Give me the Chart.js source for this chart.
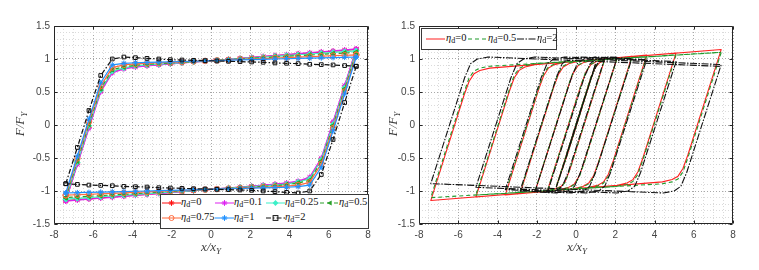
<!DOCTYPE html>
<html>
<head>
<meta charset="utf-8">
<script src="https://cdn.jsdelivr.net/npm/chart.js@4.4.1/dist/chart.umd.min.js"></script>
<style>
  html, body { margin: 0; padding: 0; background: #fff; }
  #wrap { position: relative; width: 759px; height: 270px; overflow: hidden; }
  canvas { position: absolute; top: 0; }
  #cL { left: 0; }
  #cR { left: 380px; }
  .ttl { position: absolute; font-family: "Liberation Serif", "DejaVu Serif", serif; font-style: italic;
         font-size: 13px; color: #3c3c3c; white-space: nowrap; line-height: 1; }
  .ttl sub { font-size: 9px; vertical-align: -3px; }
  .ytl { transform: translate(-50%, -50%) rotate(-90deg); }
  .xtl { transform: translate(-50%, -50%); }
  .leg { position: absolute; background: #fff; border: 1px solid #3a3a3a; box-sizing: border-box; z-index: 2; }
  .item { position: absolute; white-space: nowrap; font-family: "Liberation Serif", serif; font-size: 10.5px;
          color: #111; line-height: 1; transform: translateY(-50%); }
  .item svg { position: absolute; left: 0; top: 50%; transform: translateY(-50%); }
  .item span { position: absolute; top: -6px; }
  .item i { font-style: italic; }
  .item sub { font-size: 8px; vertical-align: -2px; }
</style>
</head>
<body>
<div id="wrap">
  <canvas id="cL" width="380" height="270"></canvas>
  <canvas id="cR" width="379" height="270"></canvas>
  <div class="ttl ytl" style="left:21px; top:124px;">F/F<sub>Y</sub></div>
  <div class="ttl xtl" style="left:211px; top:248px;">x/x<sub>Y</sub></div>
  <div class="ttl ytl" style="left:394px; top:124px;">F/F<sub>Y</sub></div>
  <div class="ttl xtl" style="left:577px; top:248px;">x/x<sub>Y</sub></div>
  <div class="leg" id="legL" style="left:160px; top:194px; width:209px; height:35px;"></div>
  <div class="leg" id="legR" style="left:421px; top:28px; width:136px; height:22px;"></div>
</div>
<script>
// ---------- left panel: last full cycle, one branch each way ----------
const gridUp = [-7.4, -6.81, -6.22, -5.62, -5.03, -4.44, -3.85, -3.26, -2.66, -2.07, -1.48, -0.89, -0.30,
                0.30, 0.89, 1.48, 2.07, 2.66, 3.26, 3.85, 4.44, 5.03, 5.62, 6.22, 6.81, 7.4];
const gridDown = [7.4, 6.81, 6.22, 5.62, 5.03, 4.44, 3.85, 3.26, 2.66, 2.07, 1.48, 0.89, 0.30,
                  -0.30, -0.89, -1.48, -2.07, -2.66, -3.26, -3.85, -4.44, -5.03, -5.62, -6.22, -6.81, -7.4];

const eta0Up = [-1.145, -0.59, -0.036, 0.52, 0.80, 0.86, 0.883, 0.900, 0.914, 0.927, 0.941, 0.955, 0.968,
                0.982, 0.995, 1.009, 1.023, 1.036, 1.050, 1.064, 1.077, 1.091, 1.104, 1.118, 1.132, 1.145];
const eta0Down = [1.145, 0.59, 0.036, -0.52, -0.80, -0.86, -0.883, -0.900, -0.914, -0.927, -0.941, -0.955, -0.968,
                  -0.982, -0.995, -1.009, -1.023, -1.036, -1.050, -1.064, -1.077, -1.091, -1.104, -1.118, -1.132, -1.145];
const eta01Up = [-1.153, -0.60, -0.05, 0.50, 0.79, 0.85, 0.877, 0.895, 0.910, 0.925, 0.939, 0.954, 0.968,
                 0.982, 0.996, 1.011, 1.025, 1.039, 1.053, 1.067, 1.082, 1.096, 1.110, 1.124, 1.138, 1.153];
const eta01Down = [1.153, 0.60, 0.05, -0.50, -0.79, -0.85, -0.877, -0.895, -0.910, -0.925, -0.939, -0.954, -0.968,
                   -0.982, -0.996, -1.011, -1.025, -1.039, -1.053, -1.067, -1.082, -1.096, -1.110, -1.124, -1.138, -1.153];
const eta025Up = [-1.123, -0.565, -0.01, 0.53, 0.815, 0.865, 0.895, 0.910, 0.922, 0.934, 0.945, 0.957, 0.969,
                  0.981, 0.993, 1.005, 1.016, 1.028, 1.040, 1.052, 1.064, 1.076, 1.087, 1.099, 1.111, 1.123];
const eta025Down = [1.123, 0.565, 0.01, -0.53, -0.815, -0.865, -0.895, -0.910, -0.922, -0.934, -0.945, -0.957, -0.969,
                    -0.981, -0.993, -1.005, -1.016, -1.028, -1.040, -1.052, -1.064, -1.076, -1.087, -1.099, -1.111, -1.123];
const eta05Up = [-1.10, -0.545, 0.01, 0.55, 0.84, 0.88, 0.905, 0.92, 0.93, 0.94, 0.95, 0.96, 0.97,
                 0.98, 0.99, 1.00, 1.01, 1.02, 1.03, 1.04, 1.05, 1.06, 1.07, 1.08, 1.09, 1.10];
const eta05Down = [1.10, 0.545, -0.01, -0.55, -0.84, -0.88, -0.905, -0.92, -0.93, -0.94, -0.95, -0.96, -0.97,
                   -0.98, -0.99, -1.00, -1.01, -1.02, -1.03, -1.04, -1.05, -1.06, -1.07, -1.08, -1.09, -1.10];
const eta075Up = [-1.064, -0.505, 0.05, 0.59, 0.87, 0.91, 0.925, 0.935, 0.943, 0.95, 0.957, 0.964, 0.971,
                  0.979, 0.986, 0.993, 1.0, 1.007, 1.014, 1.021, 1.028, 1.035, 1.042, 1.05, 1.057, 1.064];
const eta075Down = [1.064, 0.505, -0.05, -0.59, -0.87, -0.91, -0.925, -0.935, -0.943, -0.95, -0.957, -0.964, -0.971,
                    -0.979, -0.986, -0.993, -1.0, -1.007, -1.014, -1.021, -1.028, -1.035, -1.042, -1.05, -1.057, -1.064];
const eta1Up = [-1.03, -0.47, 0.09, 0.64, 0.91, 0.935, 0.943, 0.948, 0.953, 0.957, 0.962, 0.966, 0.973,
                0.977, 0.982, 0.986, 0.991, 0.995, 1.0, 1.004, 1.008, 1.013, 1.017, 1.022, 1.026, 1.03];
const eta1Down = [1.03, 0.47, -0.09, -0.64, -0.91, -0.935, -0.943, -0.948, -0.953, -0.957, -0.962, -0.966, -0.973,
                  -0.977, -0.982, -0.986, -0.991, -0.995, -1.0, -1.004, -1.008, -1.013, -1.017, -1.022, -1.026, -1.03];
const eta2Up = [-0.89, -0.34, 0.22, 0.75, 1.0, 1.03, 1.02, 1.01, 1.0, 0.99, 0.985, 0.98, 0.975,
                0.97, 0.965, 0.96, 0.955, 0.95, 0.94, 0.935, 0.93, 0.92, 0.915, 0.91, 0.90, 0.89];
const eta2Down = [0.89, 0.34, -0.22, -0.75, -1.0, -1.03, -1.02, -1.01, -1.0, -0.99, -0.985, -0.98, -0.975,
                  -0.97, -0.965, -0.96, -0.955, -0.95, -0.94, -0.935, -0.93, -0.92, -0.915, -0.91, -0.90, -0.89];

// ---------- right panel: whole loading history ----------
const pathX = [0, 0.5, 0, -0.5, 0, 0.5, 1.0, 0.5, 0, -0.5, -1.0, 0.75, 1.0, 1.2, 1.45,
  -0.3, -0.55, -0.75, -1.05, -1.45, 0.25, 0.5, 0.75, 1.05, 1.55, 2.1,
  0.4, 0.15, -0.1, -0.4, -0.9, -2.1, -0.4, -0.15, 0.1, 0.4, 0.9, 2.85,
  1.15, 0.9, 0.65, 0.35, -0.15, -2.85, -1.15, -0.9, -0.65, -0.35, 0.15, 3.6,
  1.9, 1.65, 1.4, 1.1, 0.6, -3.6, -1.9, -1.65, -1.4, -1.1, -0.6, 5.1,
  3.4, 3.15, 2.9, 2.6, 2.1, -5.1, -3.4, -3.15, -2.9, -2.6, -2.1, 7.4,
  5.7, 5.45, 5.2, 4.9, 4.4, -7.4, -5.7, -5.45, -5.2, -4.9, -4.4, 7.4];
const histEta0 = [0, 0.47, 0.01, -0.47, -0.01, 0.46, 0.92, 0.45, -0.03, -0.50, -0.93, 0.715, 0.878, 0.943, 0.978,
  -0.665, -0.858, -0.927, -0.966, -0.993, 0.60, 0.797, 0.912, 0.964, 0.999, 1.023,
  -0.576, -0.782, -0.897, -0.949, -0.984, -1.023, 0.576, 0.782, 0.897, 0.949, 0.984, 1.041,
  -0.559, -0.764, -0.880, -0.932, -0.966, -1.041, 0.559, 0.764, 0.880, 0.932, 0.966, 1.058,
  -0.541, -0.747, -0.863, -0.915, -0.949, -1.058, 0.541, 0.747, 0.863, 0.915, 0.949, 1.092,
  -0.507, -0.713, -0.828, -0.880, -0.915, -1.092, 0.507, 0.713, 0.828, 0.880, 0.915, 1.145,
  -0.454, -0.660, -0.775, -0.827, -0.862, -1.145, 0.454, 0.660, 0.775, 0.827, 0.862, 1.145];
const histEta05 = [0, 0.47, 0.01, -0.47, -0.01, 0.46, 0.92, 0.45, -0.03, -0.50, -0.93, 0.72, 0.89, 0.95, 0.985,
  -0.66, -0.87, -0.935, -0.97, -0.99, 0.60, 0.81, 0.92, 0.965, 0.995, 1.011,
  -0.588, -0.802, -0.907, -0.952, -0.980, -1.011, 0.588, 0.802, 0.907, 0.952, 0.980, 1.023,
  -0.575, -0.790, -0.894, -0.939, -0.968, -1.023, 0.575, 0.790, 0.894, 0.939, 0.968, 1.036,
  -0.563, -0.777, -0.881, -0.926, -0.955, -1.036, 0.563, 0.777, 0.881, 0.926, 0.955, 1.062,
  -0.537, -0.751, -0.856, -0.901, -0.929, -1.062, 0.537, 0.751, 0.856, 0.901, 0.929, 1.101,
  -0.498, -0.712, -0.817, -0.862, -0.890, -1.101, 0.498, 0.712, 0.817, 0.862, 0.890, 1.101];
const pathX2 = [0, 0.5, 0, -0.5, 0, 0.5, 1.0, 0.5, 0, -0.5, -1.0, 0.785, 1.085, 1.45,
  -0.40, -0.70, -1.04, -1.45, 0.42, 0.72, 1.06, 1.62, 2.1,
  0.225, -0.075, -0.415, -0.975, -2.1, -0.233, 0.067, 0.407, 0.967, 2.85,
  0.993, 0.693, 0.353, -0.207, -2.85, -1.003, -0.703, -0.363, 0.197, 3.6,
  1.762, 1.462, 1.122, 0.562, -3.6, -1.772, -1.472, -1.132, -0.572, 5.1,
  3.291, 2.991, 2.651, 2.091, -5.1, -3.311, -3.011, -2.671, -2.111, 7.4,
  5.641, 5.341, 5.001, 4.441, -7.4, -5.671, -5.371, -5.031, -4.471, 7.4];
const histEta2 = [0, 0.47, 0.01, -0.47, -0.01, 0.46, 0.93, 0.46, -0.02, -0.49, -0.94, 0.72, 0.93, 1.0,
  -0.72, -0.93, -1.0, -1.02, 0.72, 0.93, 1.0, 1.03, 1.024,
  -0.72, -0.93, -1.0, -1.03, -1.016, 0.72, 0.93, 1.0, 1.03, 1.007,
  -0.72, -0.93, -1.0, -1.03, -0.998, 0.72, 0.93, 1.0, 1.03, 0.989,
  -0.72, -0.93, -1.0, -1.03, -0.980, 0.72, 0.93, 1.0, 1.03, 0.962,
  -0.72, -0.93, -1.0, -1.03, -0.944, 0.72, 0.93, 1.0, 1.03, 0.916,
  -0.72, -0.93, -1.0, -1.03, -0.888, 0.72, 0.93, 1.0, 1.03, 0.888];

const etaLeft = ['0', '0.1', '0.25', '0.5', '0.75', '1', '2'];
const etaRight = ['0', '0.5', '2'];

// styles
const leftSeries = [
  { eta: etaLeft[0], up: eta0Up, down: eta0Down, color: '#ff1010', marker: 'star', dash: [] },
  { eta: etaLeft[1], up: eta01Up, down: eta01Down, color: '#dd22f0', marker: 'star', dash: [] },
  { eta: etaLeft[2], up: eta025Up, down: eta025Down, color: '#3cf0c8', marker: 'rectRot', dash: [] },
  { eta: etaLeft[3], up: eta05Up, down: eta05Down, color: '#2aa02a', marker: 'triangle', dash: [4, 3] },
  { eta: etaLeft[4], up: eta075Up, down: eta075Down, color: '#ff6a3d', marker: 'circle', dash: [] },
  { eta: etaLeft[5], up: eta1Up, down: eta1Down, color: '#1e90ff', marker: 'star', dash: [] },
  { eta: etaLeft[6], up: eta2Up, down: eta2Down, color: '#111111', marker: 'rect', dash: [5, 2, 1.5, 2] }
];
const rightSeries = [
  { eta: etaRight[0], xs: pathX, ys: histEta0, color: '#ff2020', dash: [] },
  { eta: etaRight[1], xs: pathX, ys: histEta05, color: '#1f9a2a', dash: [4, 3] },
  { eta: etaRight[2], xs: pathX2, ys: histEta2, color: '#111111', dash: [7, 1.5, 1.5, 1.5] }
];

function isMajor(v, step) {
  return Math.abs(v / step - Math.round(v / step)) < 1e-6;
}

function axes(yWidth) {
  const tickFont = { family: 'Liberation Sans, Arial, sans-serif', size: 10 };
  return {
    x: {
      type: 'linear', min: -8, max: 8,
      afterFit: s => { s.height = 46; },
      ticks: { stepSize: 0.5, autoSkip: false, maxRotation: 0, padding: 5, color: '#454545', font: tickFont,
               callback: v => isMajor(v, 2) ? String(v) : '' },
      grid: { drawTicks: false, lineWidth: 1,
              color: c => (c.tick && isMajor(c.tick.value, 2)) ? '#a8a8a8' : '#dadada' },
      border: { display: false, dash: [1, 2] }
    },
    y: {
      type: 'linear', min: -1.5, max: 1.5,
      afterFit: s => { s.width = yWidth; },
      ticks: { stepSize: 0.1, autoSkip: false, padding: 4, color: '#454545', font: tickFont,
               callback: v => isMajor(v, 0.5) ? String(Math.round(v * 10) / 10) : '' },
      grid: { drawTicks: false, lineWidth: 1,
              color: c => (c.tick && isMajor(c.tick.value, 0.5)) ? '#a8a8a8' : '#dadada' },
      border: { display: false, dash: [1, 2] }
    }
  };
}

// box around the axes with inward major ticks (MATLAB look)
const framePlugin = {
  id: 'frame',
  afterDatasetsDraw(chart) {
    const { ctx, chartArea: a, scales } = chart;
    const L = Math.round(a.left) + 0.5, R = Math.round(a.right) - 0.5;
    const T = Math.round(a.top) + 0.5, B = Math.round(a.bottom) - 0.5;
    ctx.save();
    ctx.strokeStyle = '#262626';
    ctx.lineWidth = 1;
    ctx.beginPath();
    ctx.rect(L, T, R - L, B - T);
    scales.x.ticks.filter(t => isMajor(t.value, 2)).forEach(t => {
      const p = Math.round(scales.x.getPixelForValue(t.value)) + 0.5;
      ctx.moveTo(p, B); ctx.lineTo(p, B - 3);
      ctx.moveTo(p, T); ctx.lineTo(p, T + 3);
    });
    scales.y.ticks.filter(t => isMajor(t.value, 0.5)).forEach(t => {
      const p = Math.round(scales.y.getPixelForValue(t.value)) + 0.5;
      ctx.moveTo(L, p); ctx.lineTo(L + 3, p);
      ctx.moveTo(R, p); ctx.lineTo(R - 3, p);
    });
    ctx.stroke();
    ctx.restore();
  }
};

function baseOptions(yWidth, padRight) {
  return {
    responsive: false, animation: false, events: [],
    layout: { padding: { top: 26, right: padRight, left: 0, bottom: 0 } },
    plugins: { legend: { display: false }, tooltip: { enabled: false } },
    scales: axes(yWidth)
  };
}

new Chart(document.getElementById('cL'), {
  type: 'scatter',
  data: {
    datasets: leftSeries.map((s, i) => ({
      label: 'ηd=' + s.eta,
      data: gridUp.map((x, k) => ({ x, y: s.up[k] })).concat(gridDown.map((x, k) => ({ x, y: s.down[k] }))),
      showLine: true,
      borderColor: s.color,
      borderWidth: 1.2,
      borderDash: s.dash,
      borderJoinStyle: 'round',
      pointStyle: s.marker,
      pointRotation: s.marker === 'triangle' ? -90 : 0,
      pointRadius: s.marker === 'rect' ? 2.6 : 2.8,
      pointBorderColor: s.color,
      pointBorderWidth: 1,
      pointBackgroundColor: (s.marker === 'rect' || s.marker === 'circle') ? 'rgba(0,0,0,0)' : s.color,
      order: leftSeries.length - i
    }))
  },
  options: baseOptions(54, 12),
  plugins: [framePlugin]
});

new Chart(document.getElementById('cR'), {
  type: 'scatter',
  data: {
    datasets: rightSeries.map((s, i) => ({
      label: 'ηd=' + s.eta,
      data: s.xs.map((x, k) => ({ x, y: s.ys[k] })),
      showLine: true,
      borderColor: s.color,
      borderWidth: 1.1,
      borderDash: s.dash,
      borderJoinStyle: 'round',
      pointRadius: 0,
      order: rightSeries.length - i
    }))
  },
  options: baseOptions(39, 26),
  plugins: [framePlugin]
});

// ---------- legends (HTML text) ----------
function markerSvg(s) {
  const c = s.color, w = 19, m = 9.5;
  let mk = '';
  if (s.marker === 'star') mk = `<path d="M${m} 1.6v5.8M${m - 2.9} 4.5h5.8M${m - 2} 2.5l4 4M${m + 2} 2.5l-4 4" stroke="${c}" stroke-width="1"/>`;
  if (s.marker === 'rectRot') mk = `<polygon points="${m},1.6 ${m + 2.9},4.5 ${m},7.4 ${m - 2.9},4.5" fill="${c}"/>`;
  if (s.marker === 'triangle') mk = `<polygon points="${m - 2.6},4.5 ${m + 2.2},2 ${m + 2.2},7" fill="${c}"/>`;
  if (s.marker === 'circle') mk = `<circle cx="${m}" cy="4.5" r="2.5" fill="none" stroke="${c}"/>`;
  if (s.marker === 'rect') mk = `<rect x="${m - 2.4}" y="2.1" width="4.8" height="4.8" fill="none" stroke="${c}"/>`;
  const dash = s.dash.length ? `stroke-dasharray="${s.dash.join(' ')}"` : '';
  return `<svg width="${w}" height="9"><line x1="0" y1="4.5" x2="${w}" y2="4.5" stroke="${c}" stroke-width="1.2" ${dash}/>${mk}</svg>`;
}
function legendItem(s, left, top, textLeft) {
  return `<div class="item" style="left:${left}px; top:${top}px;">${markerSvg(s)}` +
         `<span style="left:${textLeft}px;"><i>η</i><sub>d</sub>=${s.eta}</span></div>`;
}
const legL = document.getElementById('legL');
const colL = [1, 54, 105, 159];
legL.innerHTML =
  leftSeries.slice(0, 4).map((s, i) => legendItem(s, colL[i], 8, 19)).join('') +
  leftSeries.slice(4).map((s, i) => legendItem(s, colL[i], 23, 19)).join('');
const legR = document.getElementById('legR');
const colR = [4, 46, 95];
legR.innerHTML = rightSeries.map((s, i) => legendItem(s, colR[i], 10, 20)).join('');
</script>
</body>
</html>
